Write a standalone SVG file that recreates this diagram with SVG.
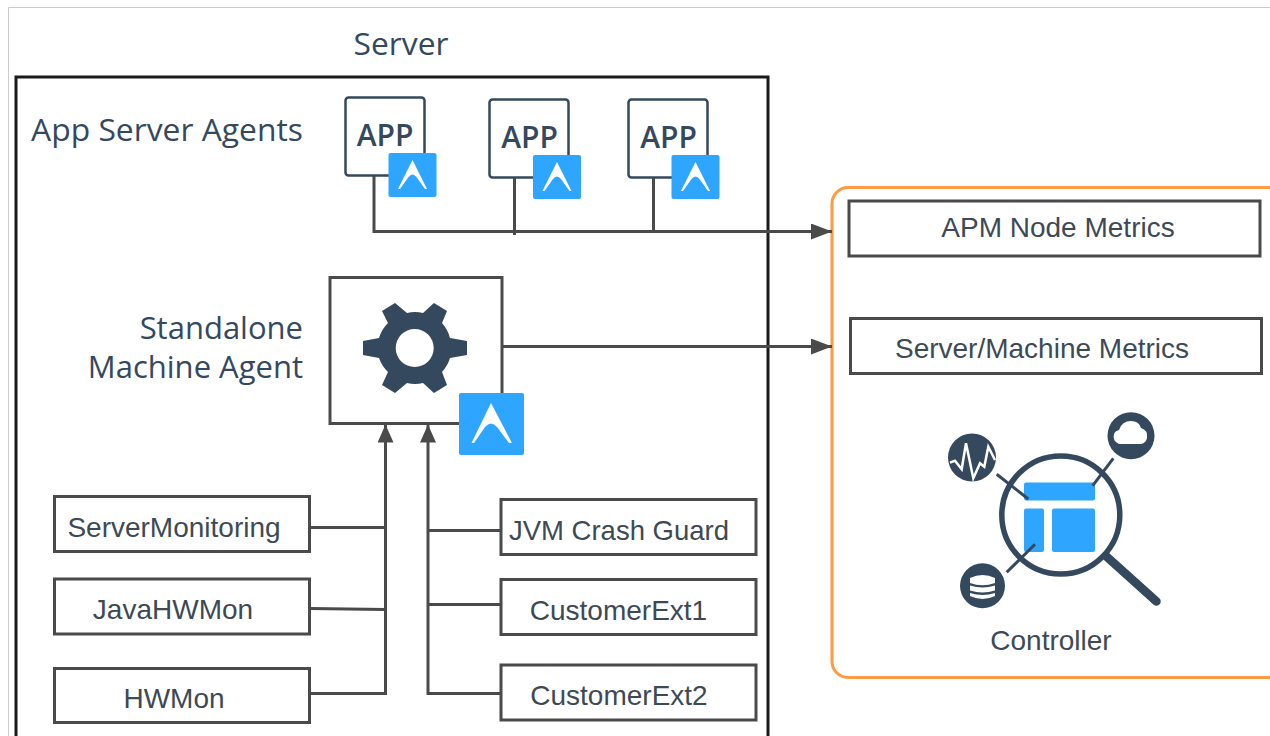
<svg xmlns="http://www.w3.org/2000/svg" width="1270" height="736" viewBox="0 0 1270 736">
<style>
.h{font-family:"Open Sans","Noto Sans",sans-serif;font-size:31.800px;fill:#34495e}
.a{font-family:"Open Sans","Noto Sans",sans-serif;font-size:30px;font-weight:600;fill:#34495e;text-anchor:middle}
.b{fill:#fff;stroke:#4a4a4a;stroke-width:3}
.t{font-family:"Liberation Sans",Arial,sans-serif;font-size:28px;fill:#3d4a55;text-anchor:middle}
.w{fill:none;stroke:#4a4a4a;stroke-width:3}
.app{fill:#fff;stroke:#34495e;stroke-width:2.5}
.bl{fill:#2ea6ff}
.nv{fill:#34495e}
</style>
<defs>
<marker id="ar" markerUnits="userSpaceOnUse" markerWidth="22" markerHeight="18" refX="21" refY="8" orient="auto"><path d="M0 0L21 8L0 16Z" fill="#4a4a4a"/></marker>
<marker id="av" markerUnits="userSpaceOnUse" markerWidth="19" markerHeight="18" refX="18" refY="8" orient="auto"><path d="M0 0L18 8L0 16Z" fill="#4a4a4a"/></marker>
<g id="badge"><rect width="48" height="44" rx="2" class="bl"/><path d="M24 7L38.500 36H36.500L28 24Q24 19 20 24L11.500 36H9.500Z" fill="#fff"/></g>
</defs>
<rect width="1270" height="736" fill="#fff"/>
<path d="M8.500 736V7.500H1270" fill="none" stroke="#cccccc" stroke-width="1"/>
<g id="server">
<rect x="16" y="77" width="752" height="670" fill="#fff" stroke="#1a1a1a" stroke-width="3"/>
<text class="h" x="401" y="55" text-anchor="middle">Server</text>
<text class="h" x="167" y="141" text-anchor="middle">App Server Agents</text>
<text class="h" x="303" y="339" text-anchor="end" style="font-size:31px">Standalone</text>
<text class="h" x="303" y="378" text-anchor="end" style="font-size:31px">Machine Agent</text>
</g>
<g id="controller">
<rect x="832" y="187.500" width="460" height="490" rx="16" fill="#fff" stroke="#ff9a42" stroke-width="3"/>
<text class="t" x="1051" y="650">Controller</text>
</g>
<g id="connectors">
<path class="w" d="M374 175V231.500H832" marker-end="url(#ar)"/>
<path class="w" d="M514.500 177V235"/>
<path class="w" d="M653.500 177V231"/>
<path class="w" d="M502 346.500H832" marker-end="url(#ar)"/>
<path class="w" d="M310 527.500H385.500M310 608.500L385.500 609.500M310 693.500H385.500V424.500" marker-end="url(#av)"/>
<path class="w" d="M501 530.500H428M501 604.500H428M501 693.500H428V424.500" marker-end="url(#av)"/>
</g>
<g id="app1"><rect class="app" x="345.500" y="97.500" width="79" height="78" rx="3"/><text class="a" x="385" y="146">APP</text><use href="#badge" x="388.500" y="153"/></g>
<g id="app2"><rect class="app" x="489.500" y="99.500" width="79" height="78" rx="3"/><text class="a" x="529.500" y="148">APP</text><use href="#badge" x="533" y="155"/></g>
<g id="app3"><rect class="app" x="628.500" y="99.500" width="79" height="78" rx="3"/><text class="a" x="668.500" y="148">APP</text><use href="#badge" x="671.500" y="155"/></g>
<g id="machine-agent">
<rect class="b" x="330" y="277.500" width="172" height="146"/>
<path class="nv" fill-rule="evenodd" d="M395 303L407 313A36 36 0 0 1 423 313L434 303L447 311L442 323A36 36 0 0 1 450 338L467 341V355L450 358A36 36 0 0 1 442 372L447 385L434 393L423 383A36 36 0 0 1 407 383L395 393L382 385L388 372A36 36 0 0 1 379 358L363 355V341L379 338A36 36 0 0 1 388 323L382 311Z M414.700 329A19 19 0 1 0 414.700 367A19 19 0 1 0 414.700 329Z"/>
<g transform="translate(459 393)"><rect width="65" height="62" rx="2" class="bl"/><path d="M32 10L53 50H50L38 34Q32 27 26 34L15 50H12.500Z" fill="#fff"/></g>
</g>
<g id="apm-metrics"><rect class="b" x="849" y="201" width="411" height="55"/><text class="t" x="1058" y="236.500">APM Node Metrics</text></g>
<g id="server-metrics"><rect class="b" x="850.500" y="318.500" width="411" height="55"/><text class="t" x="1042" y="358">Server/Machine Metrics</text></g>
<g id="servermonitoring"><rect class="b" x="54.500" y="496.500" width="255" height="55"/><text class="t" x="174" y="536.500">ServerMonitoring</text></g>
<g id="javahwmon"><rect class="b" x="54.500" y="579" width="255" height="55"/><text class="t" x="173" y="618.500">JavaHWMon</text></g>
<g id="hwmon"><rect class="b" x="54.500" y="668.500" width="255" height="54"/><text class="t" x="174" y="707.500">HWMon</text></g>
<g id="jvm"><rect class="b" x="501" y="499.500" width="255" height="55"/><text class="t" x="619" y="539.500" style="font-size:27.500px">JVM Crash Guard</text></g>
<g id="ext1"><rect class="b" x="501" y="579.500" width="255" height="55"/><text class="t" x="618.500" y="619.500">CustomerExt1</text></g>
<g id="ext2"><rect class="b" x="501" y="665" width="255" height="55"/><text class="t" x="619" y="704.500">CustomerExt2</text></g>
<g id="controller-icon">
<rect class="bl" x="1024" y="482.500" width="71" height="18" rx="2"/>
<rect class="bl" x="1024" y="508.500" width="20" height="43.500" rx="2"/>
<rect class="bl" x="1052" y="508.500" width="43" height="43.500" rx="2"/>
<circle cx="1060.800" cy="515" r="59" fill="none" stroke="#34495e" stroke-width="5.500"/>
<path d="M1106.500 556.500L1156.500 601.500" stroke="#34495e" stroke-width="8.500" stroke-linecap="round" fill="none"/>
<path d="M996.700 474.300L1028.300 499M1113.300 458.300L1092.700 485.700M1035 544.300L1006.700 572.300" stroke="#34495e" stroke-width="3" fill="none"/>
<circle cx="972" cy="457.500" r="24" class="nv"/>
<path d="M950 462.700L955 460.700L961.700 469.300L966 443.300L973.300 478.300L980 463.300L984.300 466.700L988.300 446.700L995 460" fill="none" stroke="#fff" stroke-width="2.500"/>
<circle cx="1131" cy="435.700" r="23.500" class="nv"/>
<path d="M1119 444Q1112 441 1114 434Q1115 431 1119 430Q1122 421 1131 421Q1139 421 1141 428Q1148 430 1147 438Q1146 443 1141 444Z" fill="#fff"/>
<circle cx="982.500" cy="585.800" r="22.500" class="nv"/>
<path d="M970 578Q982.500 572 995 578V583Q982.500 587.500 970 583ZM970 585.500Q982.500 589.500 995 585.500V590.500Q982.500 594.500 970 590.500ZM970 593Q982.500 597 995 593V596Q982.500 602 970 596Z" fill="#fff"/>
</g>
</svg>
